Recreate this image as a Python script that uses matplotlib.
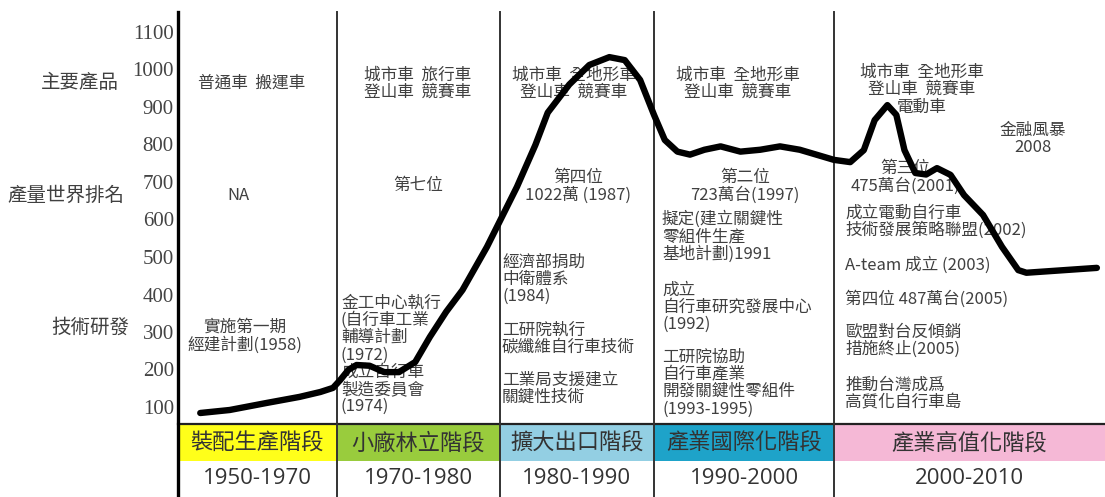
import numpy as np
import matplotlib.pyplot as plt

# stages along the bottom band
stages = ['裝配生產階段', '小廠林立階段', '擴大出口階段', '產業國際化階段', '產業高值化階段']
periods = ['1950-1970', '1970-1980', '1980-1990', '1990-2000', '2000-2010']
stage_colors = ['#ffff1a', '#99cc3d', '#93cfe3', '#1ea3c9', '#f5b8d6']
edge_years = [1950, 1970, 1980, 1990, 2000, 2010]

# production curve (萬台)
curve_years = [1952.8, 1956.5, 1961.2, 1965.3, 1967.9, 1969.5, 1970.2, 1970.7, 1971.2,
               1972.0, 1972.9, 1973.8, 1974.8, 1975.7, 1976.7, 1977.7, 1979.2, 1981.1,
               1982.3, 1983.1, 1984.5, 1985.8, 1987.1, 1988.1, 1989.1, 1990.0, 1990.6,
               1991.3, 1992.0, 1992.8, 1993.7, 1994.8, 1995.9, 1997.0, 1998.1, 2000.0,
               2000.6, 2001.1, 2001.5, 2001.97, 2002.3, 2002.6, 2003.0, 2003.4, 2003.8,
               2004.3, 2004.8, 2005.5, 2006.2, 2006.8, 2007.1, 2009.7]
curve_values = [84, 92, 111, 127, 140, 151, 172, 199, 212,
                210, 193, 193, 220, 287, 354, 412, 527, 687,
                799, 885, 960, 1012, 1033, 1025, 972, 879, 812,
                781, 773, 786, 795, 781, 786, 795, 786, 759,
                753, 785, 865, 905, 879, 785, 724, 720, 737,
                719, 665, 612, 527, 465, 458, 471]
yticks = list(range(100, 1101, 100))

row_labels = ['主要產品', '產量世界排名', '技術研發']

products = [['普通車  搬運車'],
            ['城市車  旅行車', '登山車  競賽車'],
            ['城市車  全地形車', '登山車  競賽車'],
            ['城市車  全地形車', '登山車  競賽車'],
            ['城市車  全地形車', '登山車  競賽車', '電動車']]
rankings = [['NA'], ['第七位'], ['第四位', '1022萬 (1987)'],
            ['第二位', '723萬台(1997)'], ['第三位', '475萬台(2001)']]
crisis = ['金融風暴', '2008']

rd_col1 = ['實施第一期', '經建計劃(1958)']
rd_col2 = ['金工中心執行', '(自行車工業', '輔導計劃', '(1972)', '成立自行車', '製造委員會', '(1974)']
rd_col3 = [['經濟部捐助', '中衛體系', '(1984)'], ['工研院執行', '碳纖維自行車技術'],
           ['工業局支援建立', '關鍵性技術']]
rd_col4 = [['擬定(建立關鍵性', '零組件生產', '基地計劃)1991'],
           ['成立', '自行車研究發展中心', '(1992)'],
           ['工研院協助', '自行車產業', '開發關鍵性零組件', '(1993-1995)']]
rd_col5 = [['成立電動自行車', '技術發展策略聯盟(2002)'], ['A-team 成立 (2003)'],
           ['第四位 487萬台(2005)'], ['歐盟對台反傾銷', '措施終止(2005)'],
           ['推動台灣成爲', '高質化自行車島']]

# layout (pixels)
W, H = 1105, 497
edges_px = [178, 337, 500, 654, 834, 1105]
top_px, base_px, band_bot = 12, 424, 461
px_per_unit, zero_px = 0.375, 444.5

CJK = ['Noto Sans CJK TC', 'DejaVu Sans']
TXT = '#404040'
FS = 12

fig = plt.figure(figsize=(W / 100, H / 100), dpi=100)
bg = fig.add_axes([0, 0, 1, 1], zorder=0)
bg.set_xlim(0, W)
bg.set_ylim(H, 0)
bg.axis('off')


def lines_at(x, y0, lines, step=17.5, ha='center', size=FS):
    for i, s in enumerate(lines):
        bg.text(x, y0 + i * step, s, ha=ha, va='center', fontsize=size,
                family=CJK, color=TXT)


# band and grid lines
for i in range(5):
    bg.fill_between([edges_px[i], edges_px[i + 1]], base_px, band_bot,
                    color=stage_colors[i], lw=0)
    cx = (edges_px[i] + edges_px[i + 1]) / 2
    bg.text(cx, (base_px + band_bot) / 2 + 1, stages[i], ha='center', va='center',
            fontsize=16, family=CJK, color='#333333')
    bg.text(cx, 479, periods[i], ha='center', va='center', fontsize=16,
            family='Open Sans', color='#333333')
bg.plot([edges_px[0], W], [base_px, base_px], color='#222222', lw=1.6)
bg.plot([edges_px[0], edges_px[0]], [top_px, H], color='black', lw=2.4)
for x in edges_px[1:-1]:
    bg.plot([x, x], [top_px, H], color='#333333', lw=1.4)

# row labels
bg.text(80, 83, row_labels[0], ha='center', va='center', fontsize=14, family=CJK, color=TXT)
bg.text(66, 195, row_labels[1], ha='center', va='center', fontsize=14, family=CJK, color=TXT)
bg.text(90, 327, row_labels[2], ha='center', va='center', fontsize=14, family=CJK, color=TXT)

# products
prod_pos = [(252, 83), (418, 75), (574, 75), (738, 75), (922, 72)]
for (x, y), lines in zip(prod_pos, products):
    lines_at(x, y, lines)
lines_at(1033, 130, crisis, step=17)

# rankings
rank_pos = [(238, 195), (418, 185), (578, 177), (745, 177), (905, 168)]
for (x, y), lines in zip(rank_pos, rankings):
    lines_at(x, y, lines, step=18)

# R&D
lines_at(245, 327, rd_col1, step=18)
lines_at(341, 303, rd_col2, step=17.3, ha='left')
for y0, grp in zip([262, 330, 380], rd_col3):
    lines_at(502, y0, grp, step=17, ha='left')
for y0, grp in zip([219, 290, 357], rd_col4):
    lines_at(662, y0, grp, step=17.3, ha='left')
for y0, grp in zip([213, 265, 299, 332, 385], rd_col5):
    lines_at(845, y0, grp, step=17.5, ha='left')

# curve axes
ax = fig.add_axes([edges_px[0] / W, (H - base_px) / H, (W - edges_px[0]) / W,
                   (base_px - top_px) / H], zorder=1)
ax.patch.set_visible(False)
ax.set_xlim(edges_px[0], W)
ax.set_ylim((zero_px - base_px) / px_per_unit, (zero_px - top_px) / px_per_unit)
for sp in ax.spines.values():
    sp.set_visible(False)
ax.set_xticks([])
ax.set_yticks(yticks)
ax.set_yticklabels([str(v) for v in yticks], family='Liberation Serif',
                   fontsize=15, color='#444444')
ax.tick_params(axis='y', length=0, pad=3)

xs = np.interp(curve_years, edge_years, edges_px)
ax.plot(xs, curve_values, color='black', lw=4.6, solid_joinstyle='round',
        solid_capstyle='round')

fig.savefig('out.png', dpi=100)
